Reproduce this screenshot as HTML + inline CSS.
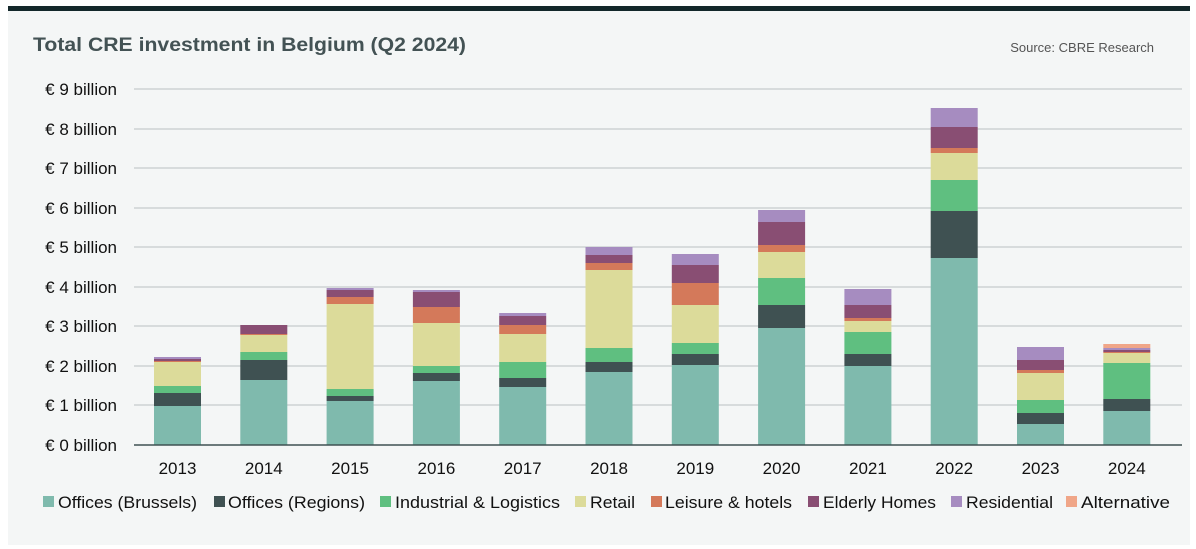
<!DOCTYPE html>
<html><head><meta charset="utf-8"><style>
body{margin:0;background:#fff}
svg{display:block;font-family:"Liberation Sans",sans-serif}
.a{fill:#7fbaad}.b{fill:#3f5152}.c{fill:#5fbf80}.d{fill:#dcdb9a}.e{fill:#d4795a}.f{fill:#894e73}.g{fill:#a68cc0}.h{fill:#f0a688}
</style></head><body>
<svg width="1196" height="549" viewBox="0 0 1196 549">
<rect x="8" y="10" width="1182" height="535" fill="#f4f6f6"/>
<rect x="8" y="6" width="1182" height="5" fill="#13272a"/>
<text x="33" y="51" font-size="19" font-weight="bold" fill="#435254" textLength="433" lengthAdjust="spacingAndGlyphs">Total CRE investment in Belgium (Q2 2024)</text>
<text x="1154" y="52" font-size="13" fill="#555" text-anchor="end">Source: CBRE Research</text>
<g stroke="#cdd2d3" stroke-width="1.5">
<line x1="134" x2="1182" y1="89" y2="89"/><line x1="134" x2="1182" y1="129" y2="129"/>
<line x1="134" x2="1182" y1="168" y2="168"/><line x1="134" x2="1182" y1="208" y2="208"/>
<line x1="134" x2="1182" y1="247" y2="247"/><line x1="134" x2="1182" y1="287" y2="287"/>
<line x1="134" x2="1182" y1="326" y2="326"/><line x1="134" x2="1182" y1="366" y2="366"/>
<line x1="134" x2="1182" y1="405" y2="405"/>
</g>
<g font-size="17" fill="#111" text-anchor="end">
<text x="117" y="95">€ 9 billion</text><text x="117" y="135">€ 8 billion</text>
<text x="117" y="174">€ 7 billion</text><text x="117" y="214">€ 6 billion</text>
<text x="117" y="253">€ 5 billion</text><text x="117" y="293">€ 4 billion</text>
<text x="117" y="332">€ 3 billion</text><text x="117" y="372">€ 2 billion</text>
<text x="117" y="411">€ 1 billion</text><text x="117" y="451">€ 0 billion</text>
</g>
<g transform="translate(154,0)">
<rect class="a" y="406" width="47" height="39"/><rect class="b" y="393" width="47" height="13"/><rect class="c" y="386" width="47" height="7"/><rect class="d" y="362" width="47" height="24"/><rect class="e" y="361" width="47" height="1"/><rect class="f" y="359" width="47" height="2"/><rect class="g" y="357" width="47" height="2"/>
</g>
<g transform="translate(240.3,0)">
<rect class="a" y="380" width="47" height="65"/><rect class="b" y="360" width="47" height="20"/><rect class="c" y="352" width="47" height="8"/><rect class="d" y="335" width="47" height="17"/><rect class="e" y="334" width="47" height="1"/><rect class="f" y="325" width="47" height="9"/>
</g>
<g transform="translate(326.6,0)">
<rect class="a" y="401" width="47" height="44"/><rect class="b" y="396" width="47" height="5"/><rect class="c" y="389" width="47" height="7"/><rect class="d" y="304" width="47" height="85"/><rect class="e" y="297" width="47" height="7"/><rect class="f" y="290" width="47" height="7"/><rect class="g" y="288" width="47" height="2"/>
</g>
<g transform="translate(412.9,0)">
<rect class="a" y="381" width="47" height="64"/><rect class="b" y="373" width="47" height="8"/><rect class="c" y="366" width="47" height="7"/><rect class="d" y="323" width="47" height="43"/><rect class="e" y="307" width="47" height="16"/><rect class="f" y="292" width="47" height="15"/><rect class="g" y="290" width="47" height="2"/>
</g>
<g transform="translate(499.2,0)">
<rect class="a" y="387" width="47" height="58"/><rect class="b" y="378" width="47" height="9"/><rect class="c" y="362" width="47" height="16"/><rect class="d" y="334" width="47" height="28"/><rect class="e" y="325" width="47" height="9"/><rect class="f" y="316" width="47" height="9"/><rect class="g" y="313" width="47" height="3"/>
</g>
<g transform="translate(585.5,0)">
<rect class="a" y="372" width="47" height="73"/><rect class="b" y="362" width="47" height="10"/><rect class="c" y="348" width="47" height="14"/><rect class="d" y="270" width="47" height="78"/><rect class="e" y="263" width="47" height="7"/><rect class="f" y="255" width="47" height="8"/><rect class="g" y="247" width="47" height="8"/>
</g>
<g transform="translate(671.8,0)">
<rect class="a" y="365" width="47" height="80"/><rect class="b" y="354" width="47" height="11"/><rect class="c" y="343" width="47" height="11"/><rect class="d" y="305" width="47" height="38"/><rect class="e" y="283" width="47" height="22"/><rect class="f" y="265" width="47" height="18"/><rect class="g" y="254" width="47" height="11"/>
</g>
<g transform="translate(758.1,0)">
<rect class="a" y="328" width="47" height="117"/><rect class="b" y="305" width="47" height="23"/><rect class="c" y="278" width="47" height="27"/><rect class="d" y="252" width="47" height="26"/><rect class="e" y="245" width="47" height="7"/><rect class="f" y="222" width="47" height="23"/><rect class="g" y="210" width="47" height="12"/>
</g>
<g transform="translate(844.4,0)">
<rect class="a" y="366" width="47" height="79"/><rect class="b" y="354" width="47" height="12"/><rect class="c" y="332" width="47" height="22"/><rect class="d" y="321" width="47" height="11"/><rect class="e" y="318" width="47" height="3"/><rect class="f" y="305" width="47" height="13"/><rect class="g" y="289" width="47" height="16"/>
</g>
<g transform="translate(930.7,0)">
<rect class="a" y="258" width="47" height="187"/><rect class="b" y="211" width="47" height="47"/><rect class="c" y="180" width="47" height="31"/><rect class="d" y="153" width="47" height="27"/><rect class="e" y="148" width="47" height="5"/><rect class="f" y="127" width="47" height="21"/><rect class="g" y="108" width="47" height="19"/>
</g>
<g transform="translate(1017,0)">
<rect class="a" y="424" width="47" height="21"/><rect class="b" y="413" width="47" height="11"/><rect class="c" y="400" width="47" height="13"/><rect class="d" y="373" width="47" height="27"/><rect class="e" y="370" width="47" height="3"/><rect class="f" y="360" width="47" height="10"/><rect class="g" y="347" width="47" height="13"/>
</g>
<g transform="translate(1103.3,0)">
<rect class="a" y="411" width="47" height="34"/><rect class="b" y="399" width="47" height="12"/><rect class="c" y="363" width="47" height="36"/><rect class="d" y="353" width="47" height="10"/><rect class="e" y="352" width="47" height="1"/><rect class="f" y="350" width="47" height="2"/><rect class="g" y="348" width="47" height="2"/><rect class="h" y="344" width="47" height="4"/>
</g>
<line x1="134" x2="1182" y1="445" y2="445" stroke="#3f5152" stroke-width="1.5"/>
<g font-size="17" fill="#111" text-anchor="middle">
<text x="177.5" y="474">2013</text><text x="263.8" y="474">2014</text><text x="350.1" y="474">2015</text>
<text x="436.4" y="474">2016</text><text x="522.7" y="474">2017</text><text x="609" y="474">2018</text>
<text x="695.3" y="474">2019</text><text x="781.6" y="474">2020</text><text x="867.9" y="474">2021</text>
<text x="954.2" y="474">2022</text><text x="1040.5" y="474">2023</text><text x="1126.8" y="474">2024</text>
</g>
<g font-size="17" fill="#111">
<rect x="43" y="496" width="11" height="11" class="a"/><text x="58" y="508" textLength="139" lengthAdjust="spacingAndGlyphs">Offices (Brussels)</text>
<rect x="214" y="496" width="11" height="11" class="b"/><text x="228" y="508" textLength="137" lengthAdjust="spacingAndGlyphs">Offices (Regions)</text>
<rect x="380" y="496" width="11" height="11" class="c"/><text x="395" y="508" textLength="165" lengthAdjust="spacingAndGlyphs">Industrial &amp; Logistics</text>
<rect x="575" y="496" width="11" height="11" class="d"/><text x="590" y="508" textLength="45" lengthAdjust="spacingAndGlyphs">Retail</text>
<rect x="651" y="496" width="11" height="11" class="e"/><text x="665" y="508" textLength="127" lengthAdjust="spacingAndGlyphs">Leisure &amp; hotels</text>
<rect x="808" y="496" width="11" height="11" class="f"/><text x="823" y="508" textLength="113" lengthAdjust="spacingAndGlyphs">Elderly Homes</text>
<rect x="951" y="496" width="11" height="11" class="g"/><text x="966" y="508" textLength="87" lengthAdjust="spacingAndGlyphs">Residential</text>
<rect x="1066" y="496" width="11" height="11" class="h"/><text x="1081" y="508" textLength="89" lengthAdjust="spacingAndGlyphs">Alternative</text>
</g>
</svg>
</body></html>
